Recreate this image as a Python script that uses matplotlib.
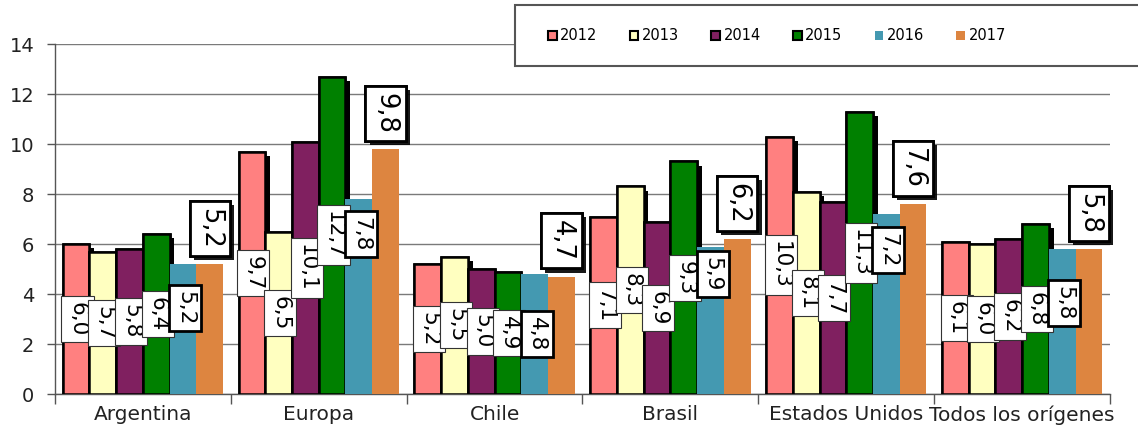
import matplotlib
matplotlib.use("Agg")
import matplotlib.pyplot as plt
import matplotlib.patheffects as pe
from matplotlib.patches import Patch, Rectangle
import numpy as np

categories = ["Argentina", "Europa", "Chile", "Brasil", "Estados Unidos", "Todos los orígenes"]
years = ["2012", "2013", "2014", "2015", "2016", "2017"]
v2012 = [6.0, 9.7, 5.2, 7.1, 10.3, 6.1]
v2013 = [5.7, 6.5, 5.5, 8.3, 8.1, 6.0]
v2014 = [5.8, 10.1, 5.0, 6.9, 7.7, 6.2]
v2015 = [6.4, 12.7, 4.9, 9.3, 11.3, 6.8]
v2016 = [5.2, 7.8, 4.8, 5.9, 7.2, 5.8]
v2017 = [5.2, 9.8, 4.7, 6.2, 7.6, 5.8]
series = [v2012, v2013, v2014, v2015, v2016, v2017]
colors = ["#FF8080", "#FFFFC0", "#802060", "#008000", "#4499B1", "#DD8540"]
yticks = [0, 2, 4, 6, 8, 10, 12, 14]

# placement (label centre height) of the 2016 data labels, as moved in the original
label_pos_2016 = [3.44, 6.4, 2.4, 4.8, 5.76, 3.64]

plt.rcParams['font.family'] = ['DejaVu Sans']

fig = plt.figure(figsize=(11.38, 4.36), dpi=100)
ax = fig.add_axes([55/1138, 1-394/436, (1110-55)/1138, (394-44)/436])

x = np.arange(len(categories))
w = 0.152
shadow = [pe.withSimplePatchShadow(offset=(3.4, -3.0), shadow_rgbFace='black', alpha=1.0), pe.Normal()]

for j, (vals, col) in enumerate(zip(series, colors)):
    xs = x + (j - 2.5) * w
    if j < 4:
        bars = ax.bar(xs, vals, width=w, color=col, edgecolor='black', linewidth=1.8, zorder=3)
        for b in bars:
            b.set_path_effects(shadow)
    else:
        ax.bar(xs, vals, width=w, color=col, edgecolor='none', linewidth=0, zorder=3)

def fmt(v):
    return f"{v:.1f}".replace('.', ',')

for j, vals in enumerate(series):
    xs = x + (j - 2.5) * w
    for k, (xi, v) in enumerate(zip(xs, vals)):
        if j < 4:
            ax.text(xi + 0.008, v / 2, fmt(v), rotation=270, ha='center', va='center',
                    fontsize=15.5, zorder=6,
                    bbox=dict(boxstyle='square,pad=0.28', fc='white', ec='#333333', lw=0.8))
        elif j == 4:
            ax.text(xi + 0.012, label_pos_2016[k], fmt(v), rotation=270, ha='center', va='center',
                    fontsize=15.5, zorder=7,
                    bbox=dict(boxstyle='square,pad=0.28', fc='white', ec='black', lw=2.0))
        else:
            t = ax.annotate(fmt(v), xy=(xi, v), xytext=(0, 11), textcoords='offset points',
                            rotation=270, ha='center', va='bottom', fontsize=18.5, zorder=8,
                            bbox=dict(boxstyle='square,pad=0.28', fc='white', ec='black', lw=2.0))
            t.get_bbox_patch().set_path_effects(
                [pe.withSimplePatchShadow(offset=(3, -3), shadow_rgbFace='black', alpha=0.9), pe.Normal()])

ax.set_xlim(-0.5, len(categories) - 0.5)
ax.set_ylim(0, 14)
ax.set_yticks(yticks)
ax.set_yticklabels([str(t) for t in yticks], fontsize=14, color='#222222')
ax.yaxis.grid(True, color='#7a7a7a', linewidth=1.0, zorder=0)
ax.set_axisbelow(True)

ax.set_xticks(x)
ax.set_xticklabels(categories, fontsize=14.5, color='#222222')
ax.tick_params(axis='x', which='major', length=0, pad=8)
ax.set_xticks(np.arange(len(categories) + 1) - 0.5, minor=True)
ax.tick_params(axis='x', which='minor', length=7, color='#555555', width=1)
ax.tick_params(axis='y', length=6, color='#555555', width=1, pad=9)

for s in ['top', 'right']:
    ax.spines[s].set_visible(False)
for s in ['left', 'bottom']:
    ax.spines[s].set_color('#555555')
    ax.spines[s].set_linewidth(1.0)

# legend frame
fig.patches.append(Rectangle((515/1138, 1-66/436), 0.6, 61/436, transform=fig.transFigure,
                             fc='white', ec='#555555', lw=1.5, zorder=10))
handles = []
for j, (yr, col) in enumerate(zip(years, colors)):
    if j < 4:
        handles.append(Patch(facecolor=col, edgecolor='black', linewidth=1.5, label=yr))
    else:
        handles.append(Patch(facecolor=col, edgecolor='none', label=yr))
leg = fig.legend(handles=handles, ncol=6, loc='center', bbox_to_anchor=(777/1138, 1-36/436),
                 frameon=False, fontsize=10.5, handlelength=0.6, handleheight=0.6,
                 handletextpad=0.25, columnspacing=2.2)
leg.set_zorder(11)

fig.savefig("out.png", dpi=100)
